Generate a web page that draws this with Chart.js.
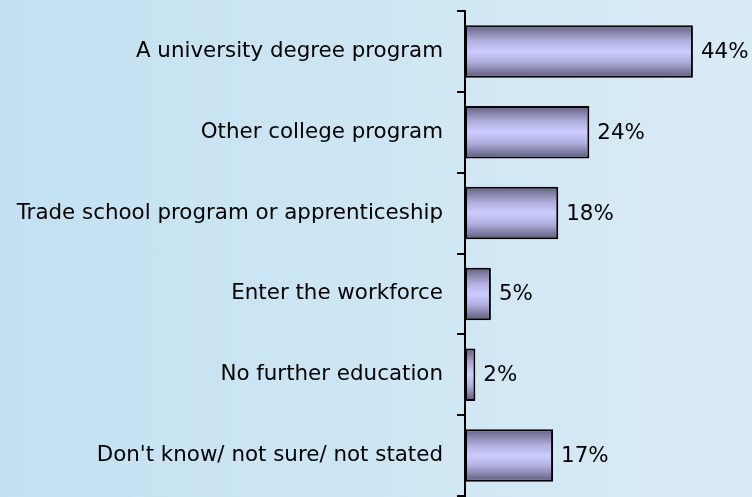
<!DOCTYPE html>
<html>
<head>
<meta charset="utf-8">
<script src="https://cdn.jsdelivr.net/npm/chart.js@4/dist/chart.umd.min.js"></script>
<style>
  html, body { margin: 0; padding: 0; }
  body {
    width: 752px; height: 497px; overflow: hidden;
    background: linear-gradient(to right, #c3e1f2, #d9ebf5);
  }
  canvas { display: block; }
</style>
</head>
<body>
<canvas id="chart" width="752" height="497"></canvas>
<script>
// survey answers, top to bottom
const categories = [
  "A university degree program",
  "Other college program",
  "Trade school program or apprenticeship",
  "Enter the workforce",
  "No further education",
  "Don't know/ not sure/ not stated",
];
const percents = [44, 24, 18, 5, 2, 17];

const FONT = "'DejaVu Sans', Verdana, sans-serif";

// vertical shading on each bar (options are shared, so give each bar its own copy)
const barShade = {
  id: "barShade",
  beforeDatasetsDraw(chart) {
    const c = chart.ctx;
    chart.getDatasetMeta(0).data.forEach((el) => {
      const top = el.y - el.height / 2;
      const g = c.createLinearGradient(0, top, 0, top + el.height);
      g.addColorStop(0, "#625e80");
      g.addColorStop(0.3, "#b0afde");
      g.addColorStop(0.5, "#ccccff");
      g.addColorStop(0.7, "#b0afde");
      g.addColorStop(1, "#5d597a");
      el.options = Object.assign({}, el.options, { backgroundColor: g });
    });
  },
};

// percent text after each bar
const valueLabels = {
  id: "valueLabels",
  afterDatasetsDraw(chart) {
    const c = chart.ctx;
    c.save();
    c.font = "21.4px " + FONT;
    c.fillStyle = "#000";
    c.textBaseline = "middle";
    c.textAlign = "left";
    chart.getDatasetMeta(0).data.forEach((el, i) => {
      c.fillText(percents[i] + "%", el.x + 8, el.y + 1);
    });
    c.restore();
  },
};

const ctx = document.getElementById("chart").getContext("2d");
const myChart = new Chart(ctx, {
  type: "bar",
  data: {
    labels: categories,
    datasets: [
      {
        data: percents,
        backgroundColor: "#ccccff",
        borderColor: "#000",
        borderWidth: 2,
        borderSkipped: false,
        barPercentage: 0.65,
        categoryPercentage: 1,
      },
    ],
  },
  options: {
    indexAxis: "y",
    responsive: false,
    animation: false,
    layout: { padding: { top: 11, bottom: 1, right: 28, left: 0 } },
    plugins: {
      legend: { display: false },
      tooltip: { enabled: false },
    },
    scales: {
      x: { display: false, min: 0, max: 50 },
      y: {
        afterFit(scale) {
          scale.width = 465;
          scale.paddingTop = 0;
          scale.paddingBottom = 0;
        },
        border: { display: true, color: "#000", width: 2 },
        grid: {
          drawOnChartArea: false,
          drawTicks: true,
          tickLength: 8,
          color: "#000",
          lineWidth: 2,
        },
        ticks: {
          color: "#000",
          padding: 14,
          font: { family: FONT, size: 21.4 },
        },
      },
    },
  },
  plugins: [barShade, valueLabels],
});
</script>
</body>
</html>
